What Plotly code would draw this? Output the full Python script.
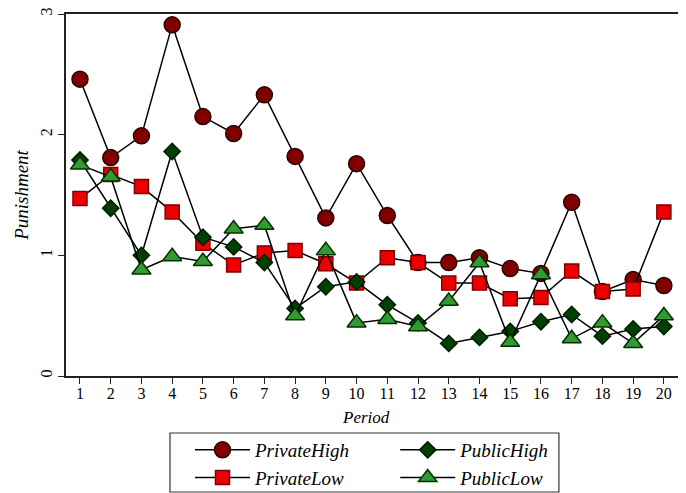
import plotly.graph_objects as go

periods = list(range(1, 21))
private_high = [2.46, 1.81, 1.99, 2.91, 2.15, 2.01, 2.33, 1.82, 1.31, 1.76,
                1.33, 0.94, 0.94, 0.98, 0.89, 0.85, 1.44, 0.70, 0.80, 0.75]
private_low = [1.47, 1.67, 1.57, 1.36, 1.10, 0.92, 1.02, 1.04, 0.93, 0.77,
               0.98, 0.94, 0.77, 0.77, 0.64, 0.65, 0.87, 0.70, 0.72, 1.36]
public_high = [1.79, 1.39, 1.00, 1.86, 1.15, 1.07, 0.94, 0.56, 0.74, 0.78,
               0.59, 0.44, 0.27, 0.32, 0.37, 0.45, 0.51, 0.33, 0.39, 0.41]
public_low = [1.75, 1.65, 0.88, 0.99, 0.95, 1.22, 1.25, 0.50, 1.04, 0.44,
              0.47, 0.41, 0.62, 0.94, 0.28, 0.84, 0.31, 0.44, 0.27, 0.50]

series = [
    ("PrivateHigh", private_high, "circle", 16, "#800000", "#2a0000", "legend"),
    ("PrivateLow", private_low, "square", 14, "#ee0000", "#800000", "legend"),
    ("PublicHigh", public_high, "diamond", 12.5, "#004000", "#001a00", "legend2"),
    ("PublicLow", public_low, "triangle-up", 16.5, "#339933", "#003300", "legend2"),
]

fig = go.Figure()
for name, vals, sym, sz, fill, edge, leg in series:
    fig.add_trace(go.Scatter(
        x=periods, y=vals, name="<i>" + name + "</i>", mode="lines+markers",
        legend=leg,
        line=dict(color="black", width=1.5),
        marker=dict(symbol=sym, size=sz, color=fill, line=dict(color=edge, width=1.5)),
    ))

font_family = "Liberation Serif"
leg_common = dict(orientation="v", xanchor="left", yanchor="top", y=-0.152,
                  itemwidth=55, borderwidth=0, bgcolor="rgba(0,0,0,0)",
                  font=dict(family=font_family, size=19), tracegroupgap=0)

fig.update_layout(
    width=678, height=485,
    margin=dict(l=58, r=0, t=6, b=117, autoexpand=False),
    paper_bgcolor="white", plot_bgcolor="white",
    font=dict(family=font_family, size=16, color="black"),
    showlegend=True,
    legend=dict(x=0.2, **leg_common),
    legend2=dict(x=0.531, **leg_common),
    xaxis=dict(
        range=[0.545, 20.72], tickmode="array", tickvals=periods,
        ticktext=[str(p) for p in periods], automargin=False,
        showgrid=False, zeroline=False, showline=True, linecolor="#222222", linewidth=1.5,
        mirror=True, ticks="outside", ticklen=6, tickcolor="#222222",
        ticklabelstandoff=-4,
        tickfont=dict(size=16),
    ),
    yaxis=dict(
        range=[0, 3], tickvals=[0, 1, 2, 3], tickangle=-90, automargin=False,
        ticklabeloverflow="allow",
        showgrid=False, zeroline=False, showline=True, linecolor="#222222", linewidth=1.5,
        ticks="outside", ticklen=6, tickcolor="#222222",
        title=dict(text="<i>Punishment</i>", standoff=4),
        tickfont=dict(size=16),
    ),
    annotations=[dict(text="<i>Period</i>", xref="paper", yref="paper",
                      x=0.484, y=-0.115, xanchor="center", yanchor="middle",
                      showarrow=False, font=dict(family=font_family, size=17))],
    shapes=[dict(type="rect", xref="paper", yref="paper",
                 x0=0.1677, x1=0.795, y0=-0.3204, y1=-0.1575,
                 line=dict(color="#333333", width=1.2), fillcolor="rgba(0,0,0,0)")],
)

fig.write_html("out.html")
